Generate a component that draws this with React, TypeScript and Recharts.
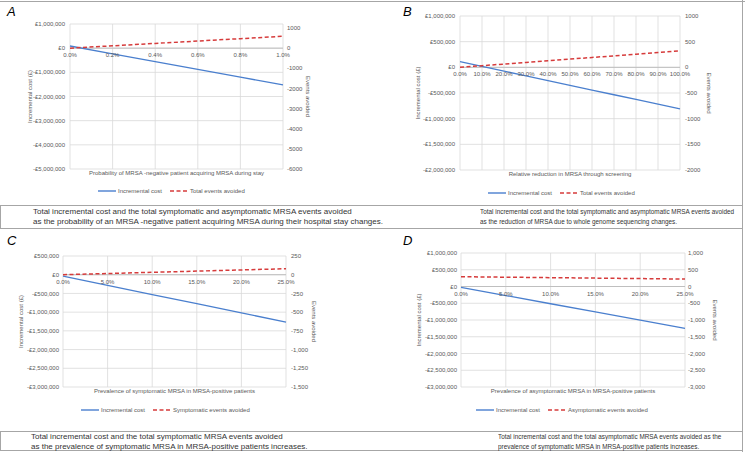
import React from "react";
import { LineChart, Line, XAxis, YAxis, CartesianGrid, ReferenceLine, Legend } from "recharts";

// Panel A: probability of acquiring MRSA during stay (%)
const aRate = [0, 0.2, 0.4, 0.6, 0.8, 1.0];
const aCost = [90000, -232000, -554000, -876000, -1198000, -1520000];
const aEvents = [0, 118, 236, 354, 472, 590];
const aCostTicks = [1000000, 0, -1000000, -2000000, -3000000, -4000000, -5000000];
const aEventTicks = [1000, 0, -1000, -2000, -3000, -4000, -5000, -6000];

// Panel B: relative reduction through screening (%)
const bReduction = [0, 10, 20, 30, 40, 50, 60, 70, 80, 90, 100];
const bCost = [110000, 18000, -74000, -166000, -258000, -350000, -442000, -534000, -626000, -718000, -810000];
const bEvents = [0, 32, 64, 96, 128, 160, 192, 224, 256, 288, 320];
const bCostTicks = [1000000, 500000, 0, -500000, -1000000, -1500000, -2000000];
const bEventTicks = [1000, 500, 0, -500, -1000, -1500, -2000];

// Panel C: prevalence of symptomatic MRSA (%)
const cPrevalence = [0, 5, 10, 15, 20, 25];
const cCost = [-40000, -285000, -530000, -775000, -1020000, -1265000];
const cEvents = [0, 16, 32, 48, 64, 80];
const cCostTicks = [500000, 0, -500000, -1000000, -1500000, -2000000, -2500000, -3000000];
const cEventTicks = [250, 0, -250, -500, -750, -1000, -1250, -1500];

// Panel D: prevalence of asymptomatic MRSA (%)
const dPrevalence = [0, 5, 10, 15, 20, 25];
const dCost = [-25000, -270000, -515000, -760000, -1005000, -1250000];
const dEvents = [292, 278, 264, 250, 236, 222];
const dCostTicks = [1000000, 500000, 0, -500000, -1000000, -1500000, -2000000, -2500000, -3000000];
const dEventTicks = [1000, 500, 0, -500, -1000, -1500, -2000, -2500, -3000];

const FONT = "'Liberation Sans', Arial, sans-serif";
const GREY = "#595959";
const BORDER = "#a6a6a6";

const pounds = (v: number) =>
  v === 0 ? "£0" : (v < 0 ? "-£" : "£") + Math.abs(v).toLocaleString("en-GB");
const plain = (v: number) => String(v);
const commas = (v: number) => v.toLocaleString("en-GB");
const pct = (v: number) => v.toFixed(1) + "%";

const zip = (xs: number[], cost: number[], events: number[]) =>
  xs.map((x, i) => ({ x, cost: cost[i], events: events[i] }));

function ZeroTick(props: any) {
  const { x, y, payload, shift } = props;
  return (
    <text x={x} y={y - shift + 9} textAnchor="middle" fontSize={6} fill={GREY} fontFamily={FONT}>
      {pct(payload.value)}
    </text>
  );
}

function LegendRow(props: any) {
  const { payload, startX, pad } = props;
  const items = [...(payload || [])].sort((a: any, b: any) =>
    a.dataKey === "cost" ? -1 : b.dataKey === "cost" ? 1 : 0
  );
  return (
    <div style={{ display: "flex", alignItems: "center", height: 20, paddingLeft: startX, paddingTop: pad, boxSizing: "border-box", fontFamily: FONT, fontSize: 6, color: GREY }}>
      {items.map((e: any) => (
        <div key={e.value} style={{ display: "flex", alignItems: "center", marginRight: 8 }}>
          <svg width={18} height={4} style={{ marginRight: 2 }}>
            <line x1={0} y1={2} x2={18} y2={2} stroke={e.color} strokeWidth={1.4} strokeDasharray={e.payload?.strokeDasharray} />
          </svg>
          <span>{e.value}</span>
        </div>
      ))}
    </div>
  );
}

type PanelProps = {
  letter: string;
  left: number;
  top: number;
  width: number;
  plotTop: number;
  plotH: number;
  leftW: number;
  rightW: number;
  leftGap: number;
  rightGap: number;
  leftLabel: number;
  rightLabel: number;
  legendX: number;
  legendPad: number;
  data: { x: number; cost: number; events: number }[];
  xTicks: number[];
  costTicks: number[];
  eventTicks: number[];
  costDomain: [number, number];
  eventDomain: [number, number];
  eventFmt: (v: number) => string;
  xTitle: string;
  eventName: string;
};

function Panel(p: PanelProps) {
  const height = p.plotTop + p.plotH + 10 + 20;
  const shift = (p.plotH * (0 - p.costDomain[0])) / (p.costDomain[1] - p.costDomain[0]);
  const xDomain = [p.xTicks[0], p.xTicks[p.xTicks.length - 1]];
  return (
    <div style={{ position: "absolute", left: p.left, top: p.top }}>
      <LineChart width={p.width} height={height} data={p.data} margin={{ top: p.plotTop, right: 0, bottom: 0, left: 0 }}>
        <CartesianGrid yAxisId="cost" stroke="#d9d9d9" strokeWidth={0.8} />
        <XAxis
          dataKey="x"
          type="number"
          domain={xDomain}
          ticks={p.xTicks}
          interval={0}
          height={10}
          axisLine={false}
          tickLine={false}
          tickSize={0}
          tickMargin={0}
          tick={<ZeroTick shift={shift} />}
          label={{ value: p.xTitle, position: "insideTop", offset: 2, fontSize: 6, fill: GREY, fontFamily: FONT }}
        />
        <YAxis
          yAxisId="cost"
          orientation="left"
          width={p.leftW}
          domain={p.costDomain}
          ticks={p.costTicks}
          interval={0}
          tickFormatter={pounds}
          axisLine={false}
          tickLine={false}
          tickSize={0}
          tickMargin={p.leftGap}
          tick={{ fontSize: 6, fill: GREY, fontFamily: FONT }}
          label={{ value: "Incremental cost (£)", angle: -90, position: "insideLeft", offset: p.leftLabel, style: { textAnchor: "middle" }, fontSize: 6, fill: GREY, fontFamily: FONT }}
        />
        <YAxis
          yAxisId="ev"
          orientation="right"
          width={p.rightW}
          domain={p.eventDomain}
          ticks={p.eventTicks}
          interval={0}
          tickFormatter={p.eventFmt}
          axisLine={false}
          tickLine={false}
          tickSize={0}
          tickMargin={p.rightGap}
          tick={{ fontSize: 6, fill: GREY, fontFamily: FONT }}
          label={{ value: "Events avoided", angle: 90, position: "insideLeft", offset: p.rightLabel, style: { textAnchor: "middle" }, fontSize: 6, fill: GREY, fontFamily: FONT }}
        />
        <ReferenceLine yAxisId="cost" y={0} stroke="#bfbfbf" strokeWidth={1} />
        <Legend
          verticalAlign="bottom"
          content={(props: any) => <LegendRow payload={props.payload} startX={p.legendX} pad={p.legendPad} />}
        />
        <Line yAxisId="cost" dataKey="cost" name="Incremental cost" stroke="#4a7fce" strokeWidth={1.3} dot={false} isAnimationActive={false} />
        <Line yAxisId="ev" dataKey="events" name={p.eventName} stroke="#d63b3b" strokeWidth={1.5} strokeDasharray="4 2.5" dot={false} isAnimationActive={false} />
      </LineChart>
      <div style={{ position: "absolute", left: p.left === 0 ? 7 : 31, top: 5, fontFamily: FONT, fontStyle: "italic", fontSize: 13, color: "#000", lineHeight: "13px" }}>
        {p.letter}
      </div>
    </div>
  );
}

const captionLeft: React.CSSProperties = {
  position: "absolute",
  fontFamily: FONT,
  fontSize: 8,
  lineHeight: "9.5px",
  color: "#333",
  whiteSpace: "nowrap",
};
const captionRight: React.CSSProperties = {
  ...captionLeft,
  fontSize: 7.5,
  transform: "scaleX(0.85)",
  transformOrigin: "left top",
};

export default function App() {
  return (
    <div style={{ position: "relative", width: 745, height: 452, background: "#fff", overflow: "hidden" }}>
      <style>{"body{margin:0}"}</style>
      <div style={{ position: "absolute", left: 0, top: 1, width: 745, height: 1, background: BORDER }} />
      <div style={{ position: "absolute", left: 742, top: 0, width: 1, height: 452, background: BORDER }} />
      <div style={{ position: "absolute", left: 0, top: 205, width: 742, height: 22, border: `1px solid ${BORDER}`, borderRight: "none" }} />
      <div style={{ position: "absolute", left: 0, top: 431, width: 742, height: 18, border: `1px solid ${BORDER}`, borderRight: "none" }} />

      <Panel
        letter="A"
        left={0}
        top={0}
        width={372}
        plotTop={24}
        plotH={145}
        leftW={70}
        rightW={89}
        leftGap={5}
        rightGap={4}
        leftLabel={30}
        rightLabel={25}
        legendX={98}
        legendPad={3}
        data={zip(aRate, aCost, aEvents)}
        xTicks={aRate}
        costTicks={aCostTicks}
        eventTicks={aEventTicks}
        costDomain={[-5000000, 1000000]}
        eventDomain={[-6000, 1200]}
        eventFmt={plain}
        xTitle="Probability of MRSA -negative patient acquiring MRSA during stay"
        eventName="Total events avoided"
      />
      <Panel
        letter="B"
        left={372}
        top={0}
        width={370}
        plotTop={16}
        plotH={154}
        leftW={88}
        rightW={62}
        leftGap={5}
        rightGap={5}
        leftLabel={46}
        rightLabel={29}
        legendX={116}
        legendPad={5}
        data={zip(bReduction, bCost, bEvents)}
        xTicks={bReduction}
        costTicks={bCostTicks}
        eventTicks={bEventTicks}
        costDomain={[-2000000, 1000000]}
        eventDomain={[-2000, 1000]}
        eventFmt={plain}
        xTitle="Relative reduction in MRSA through screening"
        eventName="Total events avoided"
      />
      <Panel
        letter="C"
        left={0}
        top={229}
        width={372}
        plotTop={27}
        plotH={131}
        leftW={63}
        rightW={86}
        leftGap={4}
        rightGap={5}
        leftLabel={21}
        rightLabel={28}
        legendX={81}
        legendPad={6}
        data={zip(cPrevalence, cCost, cEvents)}
        xTicks={cPrevalence}
        costTicks={cCostTicks}
        eventTicks={cEventTicks}
        costDomain={[-3000000, 500000]}
        eventDomain={[-1500, 250]}
        eventFmt={commas}
        xTitle="Prevalence of symptomatic MRSA in MRSA-positive patients"
        eventName="Symptomatic events avoided"
      />
      <Panel
        letter="D"
        left={372}
        top={229}
        width={370}
        plotTop={24}
        plotH={134}
        leftW={89}
        rightW={57}
        leftGap={4}
        rightGap={3}
        leftLabel={47}
        rightLabel={30}
        legendX={104}
        legendPad={6}
        data={zip(dPrevalence, dCost, dEvents)}
        xTicks={dPrevalence}
        costTicks={dCostTicks}
        eventTicks={dEventTicks}
        costDomain={[-3000000, 1000000]}
        eventDomain={[-3000, 1000]}
        eventFmt={commas}
        xTitle="Prevalence of asymptomatic MRSA in MRSA-positive patients"
        eventName="Asymptomatic events avoided"
      />

      <div style={{ ...captionLeft, left: 33, top: 207 }}>
        Total incremental cost and the total symptomatic and asymptomatic MRSA events avoided
        <br />
        as the probability of an MRSA -negative patient acquiring MRSA during their hospital stay changes.
      </div>
      <div style={{ ...captionRight, left: 480, top: 207 }}>
        Total incremental cost and the total symptomatic and asymptomatic MRSA events avoided
        <br />
        as the reduction of MRSA due to whole genome sequencing changes.
      </div>
      <div style={{ ...captionLeft, left: 31, top: 432 }}>
        Total incremental cost and the total symptomatic MRSA events avoided
        <br />
        as the prevalence of symptomatic MRSA in MRSA-positive patients increases.
      </div>
      <div style={{ ...captionRight, left: 498, top: 432 }}>
        Total incremental cost and the total asymptomatic MRSA events avoided as the
        <br />
        prevalence of symptomatic MRSA in MRSA-positive patients increases.
      </div>
    </div>
  );
}
